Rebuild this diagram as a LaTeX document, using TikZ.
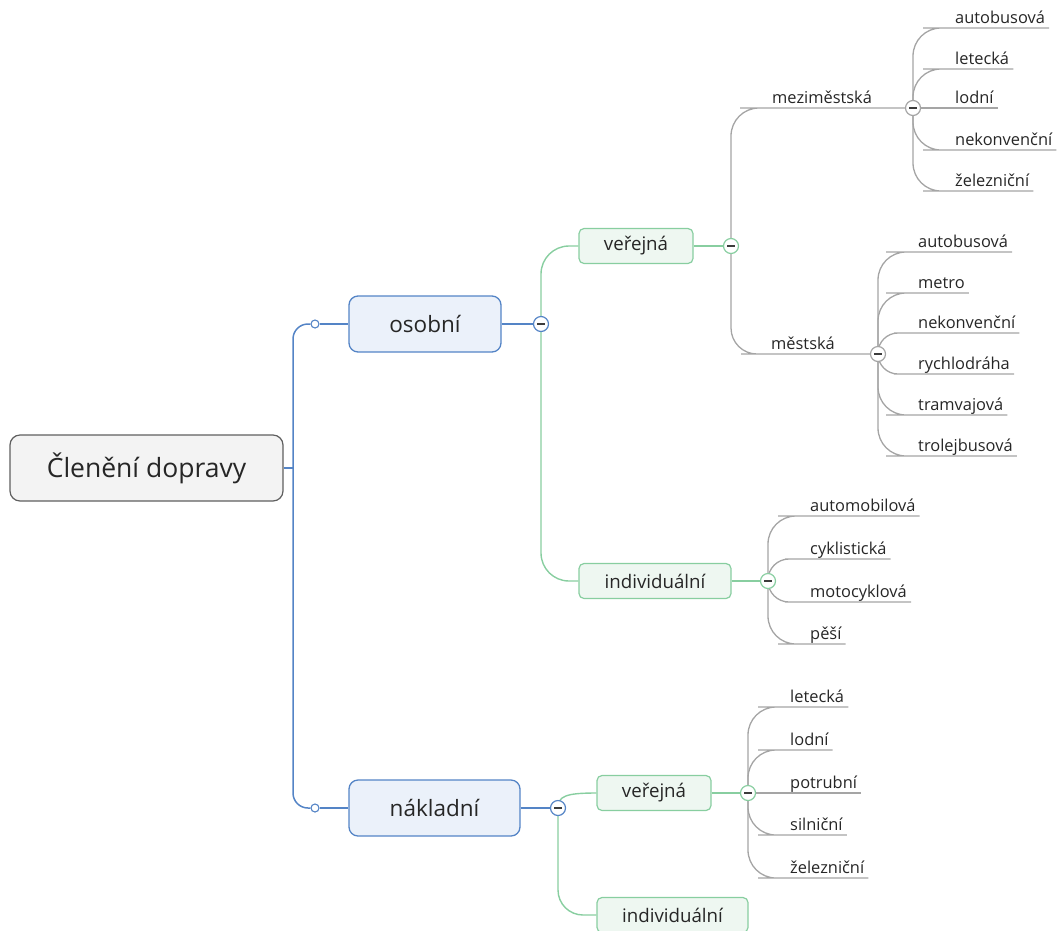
\documentclass[tikz,border=0pt]{standalone}
\usepackage{fontspec}
\setmainfont{Open Sans}
\usetikzlibrary{calc,backgrounds}
\definecolor{blueline}{RGB}{84,132,198}
\definecolor{bluefill}{RGB}{235,241,250}
\definecolor{greenline}{RGB}{136,206,160}
\definecolor{greenfill}{RGB}{238,247,241}
\definecolor{grayline}{RGB}{165,165,165}
\definecolor{rootfill}{RGB}{243,243,243}
\definecolor{rootborder}{RGB}{95,95,95}
\definecolor{txt}{RGB}{38,38,38}
\definecolor{minuscol}{RGB}{60,60,60}
\begin{document}
\begin{tikzpicture}[x=1pt,y=-1pt,
  rootbox/.style={draw=rootborder, fill=rootfill, line width=1.2pt, rounded corners=10pt,
    minimum width=273pt, minimum height=66pt, inner sep=0pt, text=txt,
    font=\fontsize{26.5}{31}\selectfont},
  mainbox/.style={draw=blueline, fill=bluefill, line width=1.3pt, rounded corners=9pt,
    minimum height=56pt, inner sep=0pt, text=txt, font=\fontsize{22.5}{27}\selectfont},
  subbox/.style={draw=greenline, fill=greenfill, line width=1.2pt, rounded corners=5pt,
    minimum height=35pt, inner sep=0pt, text=txt, font=\fontsize{18.7}{22}\selectfont},
  leaf/.style={anchor=south west, inner xsep=4pt, inner ysep=0pt, text height=12pt,
    text depth=4pt, text=txt, font=\fontsize{16.4}{19}\selectfont},
  collapse/.style={circle, draw=#1, fill=white, line width=1.2pt, minimum size=15pt,
    inner sep=0pt, path picture={\draw[line width=1.6pt, minuscol]
      ([xshift=-3.6pt]path picture bounding box.center) --
      ([xshift=3.6pt]path picture bounding box.center);}},
  joint/.style={circle, draw=blueline, fill=white, line width=1.1pt, minimum size=8pt, inner sep=0pt},
  bconn/.style={draw=blueline, line width=1.5pt},
  gconn/.style={draw=greenline, line width=1.4pt},
  grconn/.style={draw=grayline, line width=1.3pt}
]
\useasboundingbox (0,0) rectangle (1057,930);

% main nodes
\node[rootbox] (root) at (146.5,468) {Členění dopravy};
\coordinate (jr) at (293,468);
\node[joint] (d1) at (315,324) {};
\node[joint] (d2) at (315,808) {};
\node[mainbox, minimum width=152pt] (osobni) at (425,324) {osobní};
\node[mainbox, minimum width=171pt] (nakladni) at (434.5,808) {nákladní};
\node[collapse=blueline] (c1) at (541,324) {};
\node[collapse=blueline] (c2) at (558,808) {};

\node[subbox, minimum width=114pt] (v1) at (636,246) {veřejná};
\node[subbox, minimum width=152pt] (i1) at (655,581) {individuální};
\node[subbox, minimum width=114pt] (v2) at (654,793) {veřejná};
\node[subbox, minimum width=151pt] (i2) at (672.5,915) {individuální};
\node[collapse=greenline] (c3) at (731,246) {};
\node[collapse=greenline] (c4) at (768,581) {};
\node[collapse=greenline] (c5) at (748,793) {};

\node[leaf] (mez) at (768,108) {meziměstská};
\node[leaf] (mes) at (767,354) {městská};
\node[collapse=grayline] (cm) at (913,108) {};
\node[collapse=grayline] (cs) at (878,354) {};

% meziměstská leaves
\node[leaf] (m1) at (951,28) {autobusová};
\node[leaf] (m2) at (951,69) {letecká};
\node[leaf] (m3) at (951,108) {lodní};
\node[leaf] (m4) at (951,150) {nekonvenční};
\node[leaf] (m5) at (951,191) {železniční};

% městská leaves
\node[leaf] (s1) at (914,252) {autobusová};
\node[leaf] (s2) at (914,293) {metro};
\node[leaf] (s3) at (914,333) {nekonvenční};
\node[leaf] (s4) at (914,374) {rychlodráha};
\node[leaf] (s5) at (914,415) {tramvajová};
\node[leaf] (s6) at (914,456) {trolejbusová};

% individuální leaves
\node[leaf] (p1) at (806,516) {automobilová};
\node[leaf] (p2) at (806,559) {cyklistická};
\node[leaf] (p3) at (806,602) {motocyklová};
\node[leaf] (p4) at (806,644) {pěší};

% nákladní veřejná leaves
\node[leaf] (n1) at (786,707) {letecká};
\node[leaf] (n2) at (786,750) {lodní};
\node[leaf] (n3) at (786,793) {potrubní};
\node[leaf] (n4) at (786,835) {silniční};
\node[leaf] (n5) at (786,878) {železniční};

\begin{scope}[on background layer]
  \draw[bconn] (root.east) -- (jr);
  \draw[bconn, rounded corners=15pt] (jr) |- (d1);
  \draw[bconn, rounded corners=15pt] (jr) |- (d2);
  \draw[bconn] (d1) -- (osobni);
  \draw[bconn] (d2) -- (nakladni);
  \draw[bconn] (osobni) -- (c1);
  \draw[bconn] (nakladni) -- (c2);

  \draw[gconn, rounded corners=28pt] (c1.center) |- (v1.west);
  \draw[gconn, rounded corners=28pt] (c1.center) |- (i1.west);
  \draw[gconn] (v1) -- (c3);
  \draw[gconn] (i1) -- (c4);
  \draw[gconn] (v2) -- (c5);
  \draw[gconn] (c2.center) .. controls (558,796) and (566,793) .. (v2.west);
  \draw[gconn, rounded corners=25pt] (c2.center) |- (i2.west);

  \draw[grconn, rounded corners=28pt] (c3.center) |- (mez.south west) -- (mez.south east) -- (cm);
  \draw[grconn, rounded corners=26pt] (c3.center) |- (mes.south west) -- (mes.south east) -- (cs);

  \draw[grconn, rounded corners=28pt] (cm.center) |- (m1.south west) -- (m1.south east);
  \draw[grconn, rounded corners=28pt] (cm.center) |- (m2.south west) -- (m2.south east);
  \draw[grconn] (cm.center) -- (m3.south west) -- (m3.south east);
  \draw[grconn, rounded corners=28pt] (cm.center) |- (m4.south west) -- (m4.south east);
  \draw[grconn, rounded corners=28pt] (cm.center) |- (m5.south west) -- (m5.south east);

  \draw[grconn, rounded corners=28pt] (cs.center) |- (s1.south west) -- (s1.south east);
  \draw[grconn, rounded corners=28pt] (cs.center) |- (s2.south west) -- (s2.south east);
  \draw[grconn, rounded corners=20pt] (cs.center) |- (s3.south west) -- (s3.south east);
  \draw[grconn, rounded corners=20pt] (cs.center) |- (s4.south west) -- (s4.south east);
  \draw[grconn, rounded corners=28pt] (cs.center) |- (s5.south west) -- (s5.south east);
  \draw[grconn, rounded corners=28pt] (cs.center) |- (s6.south west) -- (s6.south east);

  \draw[grconn, rounded corners=28pt] (c4.center) |- (p1.south west) -- (p1.south east);
  \draw[grconn, rounded corners=21pt] (c4.center) |- (p2.south west) -- (p2.south east);
  \draw[grconn, rounded corners=21pt] (c4.center) |- (p3.south west) -- (p3.south east);
  \draw[grconn, rounded corners=28pt] (c4.center) |- (p4.south west) -- (p4.south east);

  \draw[grconn, rounded corners=28pt] (c5.center) |- (n1.south west) -- (n1.south east);
  \draw[grconn, rounded corners=28pt] (c5.center) |- (n2.south west) -- (n2.south east);
  \draw[grconn] (c5.center) -- (n3.south west) -- (n3.south east);
  \draw[grconn, rounded corners=28pt] (c5.center) |- (n4.south west) -- (n4.south east);
  \draw[grconn, rounded corners=28pt] (c5.center) |- (n5.south west) -- (n5.south east);
\end{scope}
\end{tikzpicture}
\end{document}
